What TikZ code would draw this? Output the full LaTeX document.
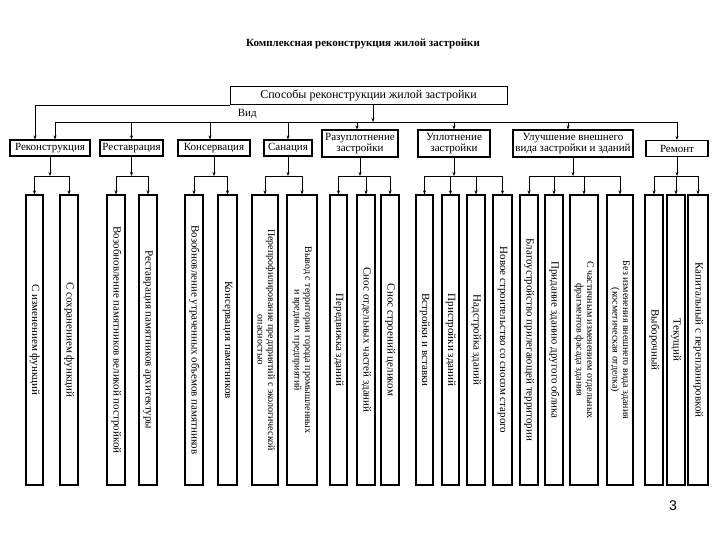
\documentclass[tikz,border=0pt]{standalone}
\usepackage{fontspec}
\setmainfont{Liberation Serif}
\newfontfamily\pgnumfont{Liberation Sans}
\usepackage{graphicx}
\usepackage{tikz}
\usetikzlibrary{arrows.meta, positioning, calc}
\newcommand{\vtxt}[1]{\rotatebox{-90}{\begin{tabular}{@{}c@{}}#1\end{tabular}}}

\begin{document}
\begin{tikzpicture}[
    x=1pt, y=-1pt,
    heading/.style={font=\bfseries\fontsize{11}{13}\selectfont},
    mainbox/.style={draw, line width=1pt, minimum width=277pt, minimum height=18pt, inner sep=0pt, font=\fontsize{12}{14}\selectfont},
    cat/.style={draw, line width=1.1pt, minimum height=16pt, inner sep=1pt, align=center, font=\fontsize{11}{11}\selectfont},
    leaf/.style={draw, line width=1.1pt, minimum height=290pt, inner sep=0pt, font=\fontsize{11}{12}\selectfont},
    leaftwo/.style={leaf, font=\fontsize{10}{10.5}\selectfont},
    >={Stealth[length=4pt, width=3pt]},
    line width=0.6pt
]
    \useasboundingbox (0,0) rectangle (720,540);

    % Title
    \node[heading] (title) at (363,44) {Комплексная реконструкция жилой застройки};
    \node[mainbox] (top) at (368.5,96) {Способы реконструкции жилой застройки};
    \node[anchor=north west, inner sep=0pt, font=\fontsize{11}{11}\selectfont] (vid) at ([xshift=8pt, yshift=-3pt]top.south west) {Вид};

    % Categories
    \node[cat, minimum width=80pt] (rek) at (50,148) {Реконструкция};
    \node[cat, minimum width=63pt] (rest) at (131.5,148) {Реставрация};
    \node[cat, minimum width=72pt] (cons) at (214,148) {Консервация};
    \node[cat, minimum width=48pt] (san) at (288,148) {Санация};
    \node[cat, minimum width=76pt, minimum height=27pt] (razupl) at (360,143.5) {Разуплотнение\\застройки};
    \node[cat, minimum width=72pt, minimum height=27pt] (upl) at (454,143.5) {Уплотнение\\застройки};
    \node[cat, minimum width=120pt, minimum height=27pt] (ulu) at (573,143.5) {Улучшение внешнего\\вида застройки и зданий};
    \node[cat, minimum width=62pt] (rem) at (677,148.5) {Ремонт};

    % Leaves
    \node[leaf, minimum width=17pt] (l1) at (34.5,340) {\vtxt{С изменением функций}};
    \node[leaf, minimum width=18pt] (l2) at (69,340) {\vtxt{С сохранением функций}};
    \node[leaf, minimum width=18pt] (l3) at (116,340) {\vtxt{Возобновление памятников великой постройкой}};
    \node[leaf, minimum width=18pt] (l4) at (148,340) {\vtxt{Реставрация памятников архитектуры}};
    \node[leaf, minimum width=18pt] (l5) at (194,340) {\vtxt{Возобновление утраченных объемов памятников}};
    \node[leaf, minimum width=19pt] (l6) at (227.5,340) {\vtxt{Консервация памятников}};
    \node[leaftwo, minimum width=26pt] (l7) at (265,340) {\vtxt{Перепрофилирование предприятий с экологической\\опасностью}};
    \node[leaftwo, minimum width=30pt] (l8) at (302,340) {\vtxt{Вывод с территории города промышленных\\и вредных предприятий}};
    \node[leaf, minimum width=17pt] (l9) at (338.5,340) {\vtxt{Передвижка зданий}};
    \node[leaf, minimum width=18pt] (l10) at (366,340) {\vtxt{Снос отдельных частей зданий}};
    \node[leaf, minimum width=18pt] (l11) at (390,340) {\vtxt{Снос строений целиком}};
    \node[leaf, minimum width=17pt] (l12) at (424.5,340) {\vtxt{Встройки и вставки}};
    \node[leaf, minimum width=17pt] (l13) at (450.5,340) {\vtxt{Пристройки зданий}};
    \node[leaf, minimum width=18pt] (l14) at (476,340) {\vtxt{Надстройка зданий}};
    \node[leaf, minimum width=19pt] (l15) at (502.5,340) {\vtxt{Новое строительство со сносом старого}};
    \node[leaf, minimum width=18pt] (l16) at (529,340) {\vtxt{Благоустройство прилегающей территории}};
    \node[leaf, minimum width=18pt] (l17) at (554,340) {\vtxt{Придание зданию другого облика}};
    \node[leaftwo, minimum width=28pt] (l18) at (584,340) {\vtxt{С частичным изменением отдельных\\фрагментов фасада здания}};
    \node[leaftwo, minimum width=26pt] (l19) at (620,340) {\vtxt{Без изменения внешнего вида здания\\(косметическая отделка)}};
    \node[leaf, minimum width=18pt] (l20) at (654,340) {\vtxt{Выборочный}};
    \node[leaf, minimum width=18pt] (l21) at (676,340) {\vtxt{Текущий}};
    \node[leaf, minimum width=20pt] (l22) at (698,340) {\vtxt{Капитальный с перепланировкой}};

    % Page number
    \node[font=\pgnumfont\fontsize{14}{14}\selectfont] (page) at (673,506) {3};

    % Bus lines
    \coordinate (busL) at (55,122);
    \coordinate (busR) at (677,122);
    \coordinate (sub) at (0,176);

    % Connections
    \draw[->] ([xshift=4.5pt]top.south) -- ([xshift=4.5pt]top.south |- busL);
    \draw (busL) -- (busR);
    \draw[->] (top.south west) -| ([xshift=-15pt]rek.north);
    \draw[->] ([xshift=5pt]rek.north |- busL) -- ([xshift=5pt]rek.north);
    \draw[->] (rest.north |- busL) -- (rest.north);
    \draw[->] ([xshift=-4pt]cons.north |- busL) -- ([xshift=-4pt]cons.north);
    \draw[->] (san.north |- busL) -- (san.north);
    \draw[->] ([xshift=-3pt]razupl.north |- busL) -- ([xshift=-3pt]razupl.north);
    \draw[->] (upl.north |- busL) -- (upl.north);
    \draw[->] ([xshift=-5pt]ulu.north |- busL) -- ([xshift=-5pt]ulu.north);
    \draw[->] (rem.north |- busL) -- (rem.north);

    % Groups
    \draw (rek.south) edge[->] (rek.south |- sub) (l1.north |- sub) -- (l2.north |- sub)
        (l1.north |- sub) edge[->] (l1.north) (l2.north |- sub) edge[->] (l2.north);
    \draw (rest.south) edge[->] (rest.south |- sub) (l3.north |- sub) -- (l4.north |- sub)
        (l3.north |- sub) edge[->] (l3.north) (l4.north |- sub) edge[->] (l4.north);
    \draw (cons.south) edge[->] (cons.south |- sub) (l5.north |- sub) -- (l6.north |- sub)
        (l5.north |- sub) edge[->] (l5.north) (l6.north |- sub) edge[->] (l6.north);
    \draw (san.south) edge[->] (san.south |- sub) (l7.north |- sub) -- (l8.north |- sub)
        (l7.north |- sub) edge[->] (l7.north) (l8.north |- sub) edge[->] (l8.north);
    \draw (razupl.south) edge[->] (razupl.south |- sub) (l9.north |- sub) -- (l11.north |- sub)
        (l9.north |- sub) edge[->] (l9.north) (l10.north |- sub) edge[->] (l10.north)
        (l11.north |- sub) edge[->] (l11.north);
    \draw (upl.south) edge[->] (upl.south |- sub) (l12.north |- sub) -- (l15.north |- sub)
        (l12.north |- sub) edge[->] (l12.north) (l13.north |- sub) edge[->] (l13.north)
        (l14.north |- sub) edge[->] (l14.north) (l15.north |- sub) edge[->] (l15.north);
    \draw (ulu.south) edge[->] (ulu.south |- sub) (l16.north |- sub) -- (l19.north |- sub)
        (l16.north |- sub) edge[->] (l16.north) (l17.north |- sub) edge[->] (l17.north)
        (l18.north |- sub) edge[->] (l18.north) (l19.north |- sub) edge[->] (l19.north);
    \draw (rem.south) edge[->] (rem.south |- sub) (l20.north |- sub) -- (l22.north |- sub)
        (l20.north |- sub) edge[->] (l20.north) (l21.north |- sub) edge[->] (l21.north)
        (l22.north |- sub) edge[->] (l22.north);
\end{tikzpicture}
\end{document}
